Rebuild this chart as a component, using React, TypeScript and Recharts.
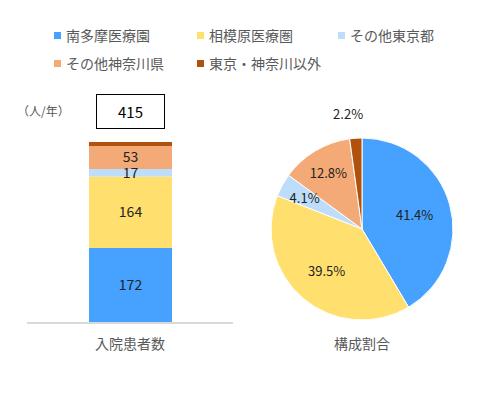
import { BarChart, Bar, XAxis, YAxis, LabelList, PieChart, Pie, Cell } from "recharts";

const seriesNames = ["南多摩医療園", "相模原医療圏", "その他東京都", "その他神奈川県", "東京・神奈川以外"];
const seriesValues = [172, 164, 17, 53, 9];
const colors = ["#47A1FF", "#FFDF6E", "#BDDDFA", "#F4AA76", "#B0520E"];
const barCategory = "入院患者数";
const pieCategory = "構成割合";
const unitLabel = "（人/年）";

const total = seriesValues.reduce((a, b) => a + b, 0);

const barData = [
  seriesValues.reduce(
    (row, v, i) => ({ ...row, [`s${i}`]: v }),
    { name: barCategory } as Record<string, string | number>
  ),
];

const pieData = seriesNames.map((name, i) => ({ name, value: seriesValues[i] }));

const FONT = '"Noto Sans CJK JP", "Noto Sans", sans-serif';
const RADIAN = Math.PI / 180;

function PieLabel(props: any) {
  const { cx, cy, midAngle, outerRadius, percent } = props;
  // tiny slice goes outside, small ones a bit further out than the big ones
  const r = percent < 0.03 ? outerRadius + 25 : percent < 0.15 ? outerRadius * 0.72 : outerRadius * 0.6;
  const x = cx + r * Math.cos(-midAngle * RADIAN) - (percent < 0.03 ? 6 : 0);
  const y = cy + r * Math.sin(-midAngle * RADIAN);
  return (
    <text x={x} y={y} textAnchor="middle" dominantBaseline="central" fill="#222" fontSize={13} fontFamily={FONT}>
      {(percent * 100).toFixed(1)}%
    </text>
  );
}

function Legend() {
  const cols = [54, 197, 338];
  return (
    <>
      {seriesNames.map((name, i) => {
        const left = cols[i % 3];
        const top = i < 3 ? 35 : 63;
        return (
          <div key={name} style={{ position: "absolute", left, top: top - 10, height: 20, display: "flex", alignItems: "center", whiteSpace: "nowrap" }}>
            <span style={{ width: 7, height: 7, background: colors[i], display: "inline-block", marginRight: 5 }} />
            <span style={{ fontSize: 14, color: "#595959" }}>{name}</span>
          </div>
        );
      })}
    </>
  );
}

export default function App() {
  return (
    <div style={{ position: "absolute", left: 0, top: 0, width: 480, height: 395, background: "#fff", fontFamily: FONT }}>
      <Legend />
      <div style={{ position: "absolute", left: 17, top: 102, fontSize: 12, color: "#595959", whiteSpace: "nowrap" }}>{unitLabel}</div>
      <div
        style={{
          position: "absolute", left: 96, top: 94, width: 69, height: 35, boxSizing: "border-box",
          border: "1.5px solid #000", display: "flex", alignItems: "center", justifyContent: "center",
          fontSize: 15, color: "#000",
        }}
      >
        {total}
      </div>
      <div style={{ position: "absolute", left: 0, top: 0 }}>
        <BarChart width={260} height={395} data={barData} margin={{ top: 142, right: 27, bottom: 32, left: 27 }}>
          <XAxis
            dataKey="name"
            height={40}
            axisLine={{ stroke: "#D9D9D9", strokeWidth: 2 }}
            tickLine={false}
            tickMargin={10}
            tick={{ fill: "#595959", fontSize: 14, fontFamily: FONT }}
          />
          <YAxis hide domain={[0, total]} />
          {seriesValues.map((_, i) => (
            <Bar key={i} dataKey={`s${i}`} stackId="a" fill={colors[i]} barSize={83} isAnimationActive={false}>
              {i < 4 && (
                <LabelList dataKey={`s${i}`} position="center" fill="#222" fontSize={14} fontFamily={FONT} />
              )}
            </Bar>
          ))}
        </BarChart>
      </div>
      <div style={{ position: "absolute", left: 260, top: 0 }}>
        <PieChart width={220} height={395} margin={{ top: 0, right: 0, bottom: 0, left: 0 }}>
          <Pie
            data={pieData}
            dataKey="value"
            cx={102}
            cy={229}
            outerRadius={91}
            startAngle={90}
            endAngle={-270}
            stroke="#fff"
            strokeWidth={1}
            label={PieLabel}
            labelLine={false}
            isAnimationActive={false}
          >
            {pieData.map((d, i) => (
              <Cell key={d.name} fill={colors[i]} />
            ))}
          </Pie>
        </PieChart>
      </div>
      <div style={{ position: "absolute", left: 262, width: 200, top: 333, textAlign: "center", fontSize: 14, color: "#595959" }}>
        {pieCategory}
      </div>
    </div>
  );
}
